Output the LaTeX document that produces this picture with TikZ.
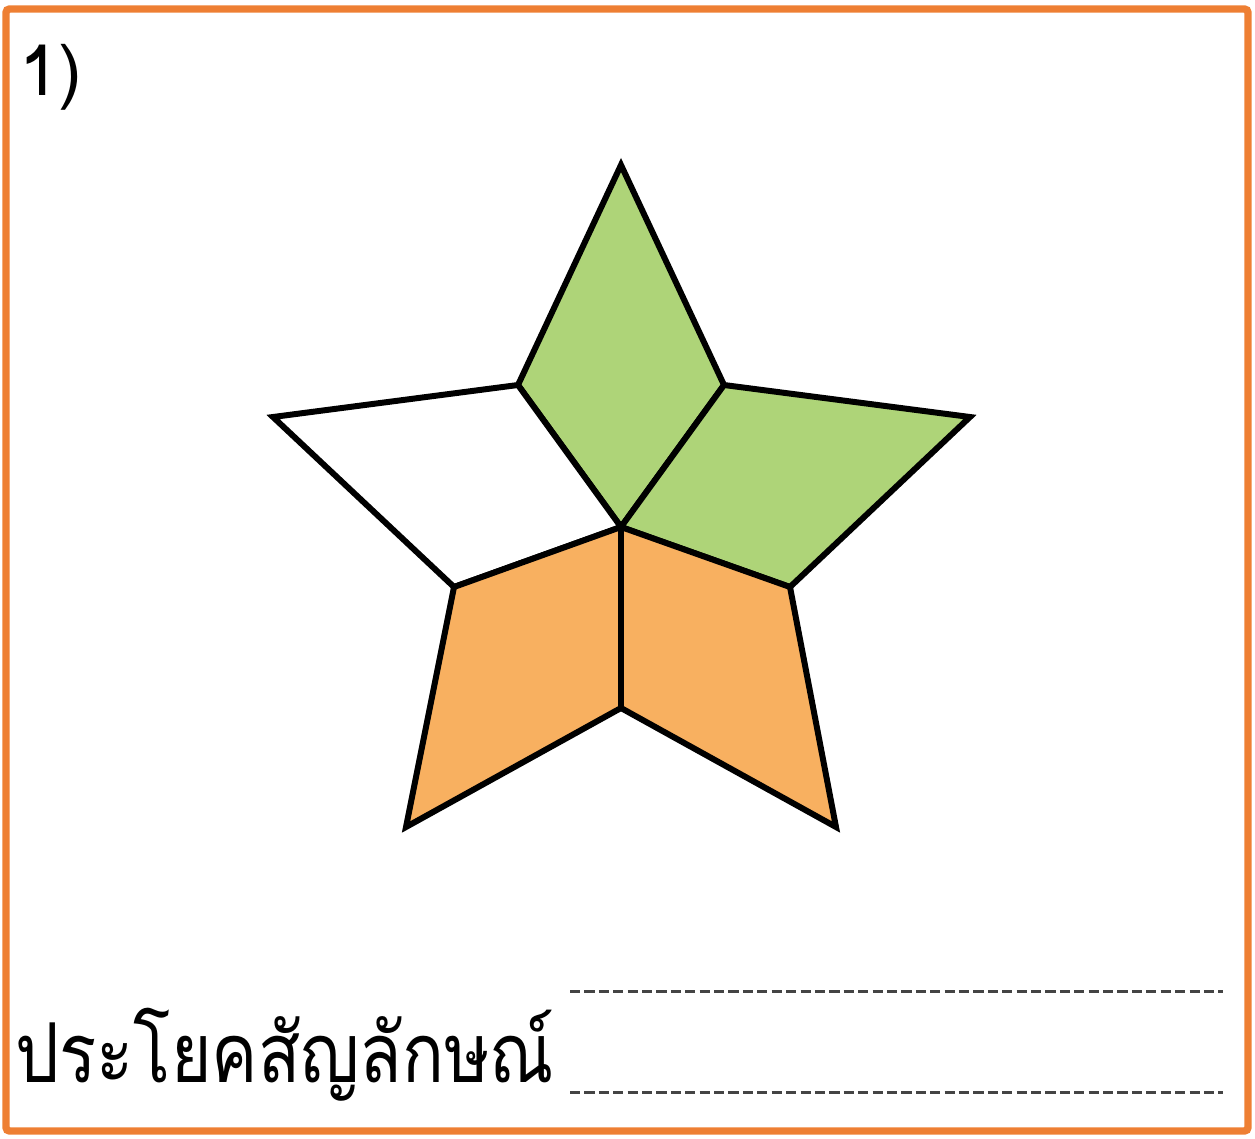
\documentclass[tikz,border=0pt]{standalone}
\usepackage{fontspec}
\usepackage{xcolor}
\usepackage{graphicx}
\newfontfamily\thaifont[Script=Thai]{Loma}
\definecolor{frameorange}{HTML}{EE7F33}
\definecolor{leafgreen}{HTML}{AED478}
\definecolor{pieceorange}{HTML}{F8B060}
\definecolor{dashgray}{HTML}{444444}
\tikzset{
	piece/.style={draw=black,line width=3.4pt,line join=miter},
	answerline/.style={dashgray,line width=1.7pt,dash pattern=on 5.8pt off 2.4pt}
}

\begin{document}
\begin{tikzpicture}[x=0.02cm,y=-0.02cm]
	\useasboundingbox (0,0) rectangle (1255,1139);
	\draw[frameorange,line width=4.2pt,rounded corners=2pt] (6,9) rectangle (1248,1131);
	
	% star corners
	\coordinate (top) at (621,165);
	\coordinate (inUL) at (518,385);
	\coordinate (inUR) at (724,385);
	\coordinate (tipL) at (273,417);
	\coordinate (tipR) at (970,417);
	\coordinate (mid) at (621,527);
	\coordinate (inLL) at (454,587);
	\coordinate (inLR) at (790,587);
	\coordinate (tipBL) at (406,827);
	\coordinate (tipBR) at (836,827);
	\coordinate (inB) at (621,708);
	
	\draw[piece,fill=leafgreen] (top) -- (inUR) -- (mid) -- (inUL) -- cycle;
	\draw[piece,fill=leafgreen] (inUR) -- (tipR) -- (inLR) -- (mid) -- cycle;
	\draw[piece,fill=white] (inUL) -- (mid) -- (inLL) -- (tipL) -- cycle;
	\draw[piece,fill=pieceorange] (mid) -- (inB) -- (tipBL) -- (inLL) -- cycle;
	\draw[piece,fill=pieceorange] (mid) -- (inLR) -- (tipBR) -- (inB) -- cycle;
	
	\node[anchor=base west,inner sep=0pt] (num) at (19,95) {\thaifont\fontsize{40}{48}\selectfont 1)};
	\node[anchor=base west,inner sep=0pt] (sentence) at (15,1082) {\scalebox{0.84}[1]{\thaifont\fontsize{47}{56}\selectfont ประโยคสัญลักษณ์}};
	
	\coordinate (lineA) at (570,991);
	\coordinate (lineAend) at (1223,991);
	\coordinate (lineB) at (570,1092);
	\coordinate (lineBend) at (1223,1092);
	\draw[answerline] (lineA) -- (lineAend);
	\draw[answerline] (lineB) -- (lineBend);
\end{tikzpicture}
\end{document}
